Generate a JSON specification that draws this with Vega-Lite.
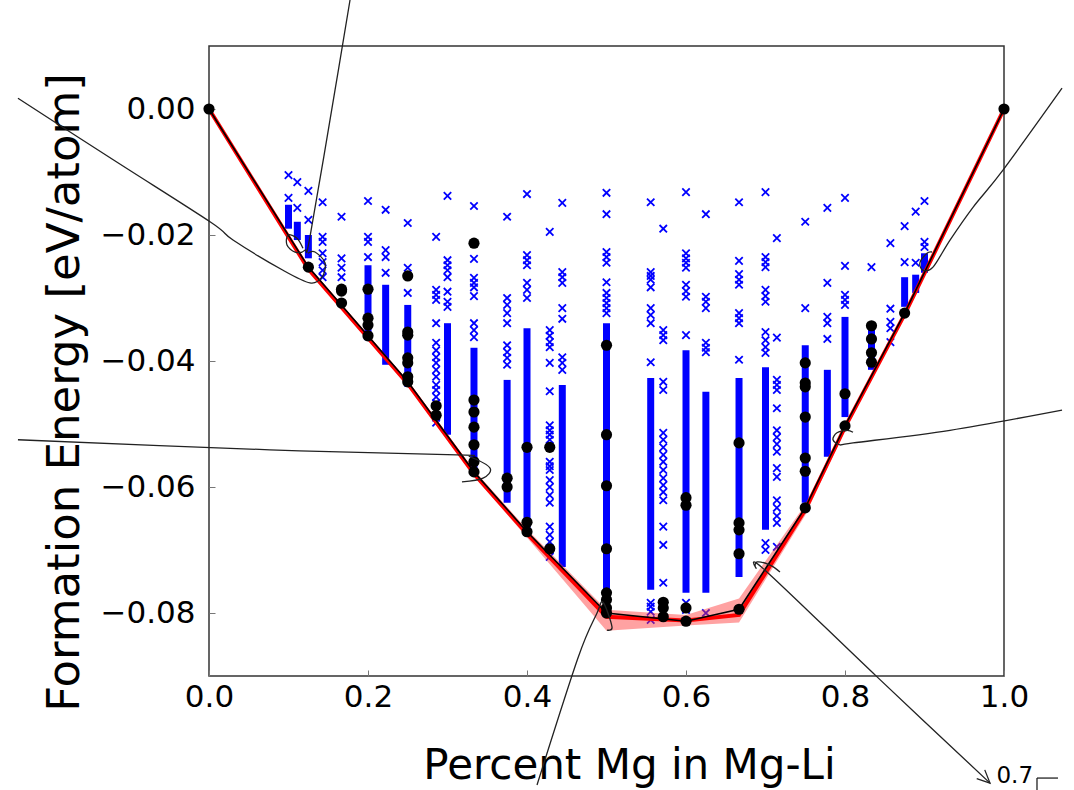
{
  "$schema": "https://vega.github.io/schema/vega-lite/v6.json",
  "width": 795,
  "height": 630,
  "autosize": {"type": "none"},
  "padding": {"left": 209, "top": 46, "right": 70, "bottom": 114},
  "background": "white",
  "config": {
    "view": {"stroke": "#333", "strokeWidth": 1.5},
    "font": "DejaVu Sans",
    "axis": {"grid": false, "domain": false, "labelFont": "DejaVu Sans", "titleFont": "DejaVu Sans", "labelColor": "black", "titleColor": "black", "titleFontWeight": "normal", "tickColor": "#777", "tickWidth": 1}
  },
  "datasets": {
    "dense": [
      {"x": 0.1, "top": -0.0152, "bottom": -0.0190},
      {"x": 0.1111, "top": -0.0179, "bottom": -0.0208},
      {"x": 0.125, "top": -0.0200, "bottom": -0.0237},
      {"x": 0.2, "top": -0.0248, "bottom": -0.0367},
      {"x": 0.2222, "top": -0.0279, "bottom": -0.0406},
      {"x": 0.25, "top": -0.0311, "bottom": -0.0441},
      {"x": 0.3, "top": -0.0340, "bottom": -0.0517},
      {"x": 0.3333, "top": -0.0379, "bottom": -0.0576},
      {"x": 0.375, "top": -0.0430, "bottom": -0.0625},
      {"x": 0.4, "top": -0.0348, "bottom": -0.0673},
      {"x": 0.4444, "top": -0.0438, "bottom": -0.0727},
      {"x": 0.5, "top": -0.0340, "bottom": -0.0790},
      {"x": 0.5556, "top": -0.0427, "bottom": -0.0763},
      {"x": 0.6, "top": -0.0383, "bottom": -0.0768},
      {"x": 0.625, "top": -0.0449, "bottom": -0.0768},
      {"x": 0.6667, "top": -0.0427, "bottom": -0.0743},
      {"x": 0.7, "top": -0.0410, "bottom": -0.0668},
      {"x": 0.75, "top": -0.0375, "bottom": -0.0625},
      {"x": 0.7778, "top": -0.0414, "bottom": -0.0552},
      {"x": 0.8, "top": -0.0330, "bottom": -0.0489},
      {"x": 0.8333, "top": -0.0346, "bottom": -0.0414},
      {"x": 0.875, "top": -0.0267, "bottom": -0.0314},
      {"x": 0.8889, "top": -0.0263, "bottom": -0.0292},
      {"x": 0.9, "top": -0.0229, "bottom": -0.0260}
    ],
    "crosses": [
      {"x": 0.1, "e": -0.0105}, {"x": 0.1, "e": -0.0141},
      {"x": 0.1111, "e": -0.0116}, {"x": 0.1111, "e": -0.0157},
      {"x": 0.125, "e": -0.0130}, {"x": 0.125, "e": -0.0176},
      {"x": 0.1429, "e": -0.0148}, {"x": 0.1429, "e": -0.0203}, {"x": 0.1429, "e": -0.0211}, {"x": 0.1429, "e": -0.0229}, {"x": 0.1429, "e": -0.0243}, {"x": 0.1429, "e": -0.0256}, {"x": 0.1429, "e": -0.0267},
      {"x": 0.1667, "e": -0.0171}, {"x": 0.1667, "e": -0.0237}, {"x": 0.1667, "e": -0.0252}, {"x": 0.1667, "e": -0.0267},
      {"x": 0.2, "e": -0.0146}, {"x": 0.2, "e": -0.0203}, {"x": 0.2, "e": -0.0211}, {"x": 0.2, "e": -0.0235},
      {"x": 0.2222, "e": -0.0160}, {"x": 0.2222, "e": -0.0224}, {"x": 0.2222, "e": -0.0235}, {"x": 0.2222, "e": -0.0260},
      {"x": 0.25, "e": -0.0181}, {"x": 0.25, "e": -0.0252}, {"x": 0.25, "e": -0.0292},
      {"x": 0.2857, "e": -0.0203}, {"x": 0.2857, "e": -0.0287}, {"x": 0.2857, "e": -0.0295}, {"x": 0.2857, "e": -0.0303}, {"x": 0.2857, "e": -0.0340}, {"x": 0.2857, "e": -0.0371}, {"x": 0.2857, "e": -0.0383}, {"x": 0.2857, "e": -0.0394}, {"x": 0.2857, "e": -0.0403}, {"x": 0.2857, "e": -0.0414}, {"x": 0.2857, "e": -0.0425}, {"x": 0.2857, "e": -0.0438}, {"x": 0.2857, "e": -0.0446}, {"x": 0.2857, "e": -0.0457}, {"x": 0.2857, "e": -0.0467}, {"x": 0.2857, "e": -0.0478}, {"x": 0.2857, "e": -0.0490}, {"x": 0.2857, "e": -0.0498},
      {"x": 0.3, "e": -0.0138}, {"x": 0.3, "e": -0.0240}, {"x": 0.3, "e": -0.0248}, {"x": 0.3, "e": -0.0256}, {"x": 0.3, "e": -0.0267}, {"x": 0.3, "e": -0.0290}, {"x": 0.3, "e": -0.0306}, {"x": 0.3, "e": -0.0314},
      {"x": 0.3333, "e": -0.0154}, {"x": 0.3333, "e": -0.0238}, {"x": 0.3333, "e": -0.0268}, {"x": 0.3333, "e": -0.0276}, {"x": 0.3333, "e": -0.0283}, {"x": 0.3333, "e": -0.0297}, {"x": 0.3333, "e": -0.0340}, {"x": 0.3333, "e": -0.0351}, {"x": 0.3333, "e": -0.0362},
      {"x": 0.375, "e": -0.0171}, {"x": 0.375, "e": -0.0300}, {"x": 0.375, "e": -0.0311}, {"x": 0.375, "e": -0.0324}, {"x": 0.375, "e": -0.0340}, {"x": 0.375, "e": -0.0375}, {"x": 0.375, "e": -0.0386}, {"x": 0.375, "e": -0.0395}, {"x": 0.375, "e": -0.0406},
      {"x": 0.4, "e": -0.0135}, {"x": 0.4, "e": -0.0232}, {"x": 0.4, "e": -0.0240}, {"x": 0.4, "e": -0.0248}, {"x": 0.4, "e": -0.0276}, {"x": 0.4, "e": -0.0287}, {"x": 0.4, "e": -0.0300},
      {"x": 0.4286, "e": -0.0195}, {"x": 0.4286, "e": -0.0351}, {"x": 0.4286, "e": -0.0360}, {"x": 0.4286, "e": -0.0370}, {"x": 0.4286, "e": -0.0378}, {"x": 0.4286, "e": -0.0403}, {"x": 0.4286, "e": -0.0448}, {"x": 0.4286, "e": -0.0502}, {"x": 0.4286, "e": -0.0510}, {"x": 0.4286, "e": -0.0517}, {"x": 0.4286, "e": -0.0525}, {"x": 0.4286, "e": -0.0560}, {"x": 0.4286, "e": -0.0567}, {"x": 0.4286, "e": -0.0573}, {"x": 0.4286, "e": -0.0589}, {"x": 0.4286, "e": -0.0600}, {"x": 0.4286, "e": -0.0613}, {"x": 0.4286, "e": -0.0625}, {"x": 0.4286, "e": -0.0663}, {"x": 0.4286, "e": -0.0676}, {"x": 0.4286, "e": -0.0687}, {"x": 0.4286, "e": -0.0700}, {"x": 0.4286, "e": -0.0711},
      {"x": 0.4444, "e": -0.0149}, {"x": 0.4444, "e": -0.0259}, {"x": 0.4444, "e": -0.0267}, {"x": 0.4444, "e": -0.0276}, {"x": 0.4444, "e": -0.0316}, {"x": 0.4444, "e": -0.0333}, {"x": 0.4444, "e": -0.0394}, {"x": 0.4444, "e": -0.0403}, {"x": 0.4444, "e": -0.0414},
      {"x": 0.5, "e": -0.0133}, {"x": 0.5, "e": -0.0167}, {"x": 0.5, "e": -0.0227}, {"x": 0.5, "e": -0.0235}, {"x": 0.5, "e": -0.0244}, {"x": 0.5, "e": -0.0275}, {"x": 0.5, "e": -0.0292}, {"x": 0.5, "e": -0.0300}, {"x": 0.5, "e": -0.0308}, {"x": 0.5, "e": -0.0316}, {"x": 0.5, "e": -0.0324},
      {"x": 0.5556, "e": -0.0148}, {"x": 0.5556, "e": -0.0259}, {"x": 0.5556, "e": -0.0265}, {"x": 0.5556, "e": -0.0271}, {"x": 0.5556, "e": -0.0283}, {"x": 0.5556, "e": -0.0316}, {"x": 0.5556, "e": -0.0327}, {"x": 0.5556, "e": -0.0340}, {"x": 0.5556, "e": -0.0402}, {"x": 0.5556, "e": -0.0784}, {"x": 0.5556, "e": -0.0790}, {"x": 0.5556, "e": -0.0798}, {"x": 0.5556, "e": -0.0811},
      {"x": 0.5714, "e": -0.0190}, {"x": 0.5714, "e": -0.0351}, {"x": 0.5714, "e": -0.0359}, {"x": 0.5714, "e": -0.0367}, {"x": 0.5714, "e": -0.0433}, {"x": 0.5714, "e": -0.0446}, {"x": 0.5714, "e": -0.0514}, {"x": 0.5714, "e": -0.0525}, {"x": 0.5714, "e": -0.0537}, {"x": 0.5714, "e": -0.0549}, {"x": 0.5714, "e": -0.0560}, {"x": 0.5714, "e": -0.0573}, {"x": 0.5714, "e": -0.0586}, {"x": 0.5714, "e": -0.0597}, {"x": 0.5714, "e": -0.0608}, {"x": 0.5714, "e": -0.0621}, {"x": 0.5714, "e": -0.0663}, {"x": 0.5714, "e": -0.0692}, {"x": 0.5714, "e": -0.0752},
      {"x": 0.6, "e": -0.0132}, {"x": 0.6, "e": -0.0229}, {"x": 0.6, "e": -0.0237}, {"x": 0.6, "e": -0.0244}, {"x": 0.6, "e": -0.0252}, {"x": 0.6, "e": -0.0279}, {"x": 0.6, "e": -0.0289}, {"x": 0.6, "e": -0.0298}, {"x": 0.6, "e": -0.0359}, {"x": 0.6, "e": -0.0784}, {"x": 0.6, "e": -0.0795},
      {"x": 0.625, "e": -0.0167}, {"x": 0.625, "e": -0.0298}, {"x": 0.625, "e": -0.0306}, {"x": 0.625, "e": -0.0316}, {"x": 0.625, "e": -0.0371}, {"x": 0.625, "e": -0.0379}, {"x": 0.625, "e": -0.0386}, {"x": 0.625, "e": -0.0800},
      {"x": 0.6667, "e": -0.0148}, {"x": 0.6667, "e": -0.0241}, {"x": 0.6667, "e": -0.0262}, {"x": 0.6667, "e": -0.0271}, {"x": 0.6667, "e": -0.0279}, {"x": 0.6667, "e": -0.0324}, {"x": 0.6667, "e": -0.0332}, {"x": 0.6667, "e": -0.0340}, {"x": 0.6667, "e": -0.0398},
      {"x": 0.7, "e": -0.0132}, {"x": 0.7, "e": -0.0235}, {"x": 0.7, "e": -0.0243}, {"x": 0.7, "e": -0.0251}, {"x": 0.7, "e": -0.0287}, {"x": 0.7, "e": -0.0297}, {"x": 0.7, "e": -0.0306}, {"x": 0.7, "e": -0.0354}, {"x": 0.7, "e": -0.0367}, {"x": 0.7, "e": -0.0378}, {"x": 0.7, "e": -0.0387}, {"x": 0.7, "e": -0.0689}, {"x": 0.7, "e": -0.0700},
      {"x": 0.7143, "e": -0.0205}, {"x": 0.7143, "e": -0.0363}, {"x": 0.7143, "e": -0.0430}, {"x": 0.7143, "e": -0.0438}, {"x": 0.7143, "e": -0.0446}, {"x": 0.7143, "e": -0.0475}, {"x": 0.7143, "e": -0.0510}, {"x": 0.7143, "e": -0.0521}, {"x": 0.7143, "e": -0.0532}, {"x": 0.7143, "e": -0.0544}, {"x": 0.7143, "e": -0.0570}, {"x": 0.7143, "e": -0.0584}, {"x": 0.7143, "e": -0.0621}, {"x": 0.7143, "e": -0.0633}, {"x": 0.7143, "e": -0.0646}, {"x": 0.7143, "e": -0.0657}, {"x": 0.7143, "e": -0.0695},
      {"x": 0.75, "e": -0.0179}, {"x": 0.75, "e": -0.0316}, {"x": 0.75, "e": -0.0633},
      {"x": 0.7778, "e": -0.0157}, {"x": 0.7778, "e": -0.0276}, {"x": 0.7778, "e": -0.0330}, {"x": 0.7778, "e": -0.0340}, {"x": 0.7778, "e": -0.0365},
      {"x": 0.8, "e": -0.0141}, {"x": 0.8, "e": -0.0249}, {"x": 0.8, "e": -0.0295}, {"x": 0.8, "e": -0.0303}, {"x": 0.8, "e": -0.0311},
      {"x": 0.8333, "e": -0.0251},
      {"x": 0.8571, "e": -0.0213}, {"x": 0.8571, "e": -0.0317}, {"x": 0.8571, "e": -0.0338}, {"x": 0.8571, "e": -0.0348}, {"x": 0.8571, "e": -0.0370},
      {"x": 0.875, "e": -0.0186}, {"x": 0.875, "e": -0.0243},
      {"x": 0.8889, "e": -0.0163}, {"x": 0.8889, "e": -0.0244},
      {"x": 0.9, "e": -0.0146}, {"x": 0.9, "e": -0.0211}, {"x": 0.9, "e": -0.0219}
    ],
    "dots": [
      {"x": 0, "e": 0}, {"x": 1, "e": 0},
      {"x": 0.125, "e": -0.0251},
      {"x": 0.1667, "e": -0.0286}, {"x": 0.1667, "e": -0.0289}, {"x": 0.1667, "e": -0.0308},
      {"x": 0.2, "e": -0.0286}, {"x": 0.2, "e": -0.0332}, {"x": 0.2, "e": -0.0343}, {"x": 0.2, "e": -0.0360},
      {"x": 0.25, "e": -0.0265}, {"x": 0.25, "e": -0.0354}, {"x": 0.25, "e": -0.0359}, {"x": 0.25, "e": -0.0395}, {"x": 0.25, "e": -0.0403}, {"x": 0.25, "e": -0.0425}, {"x": 0.25, "e": -0.0433},
      {"x": 0.2857, "e": -0.0471}, {"x": 0.2857, "e": -0.0486},
      {"x": 0.3333, "e": -0.0213}, {"x": 0.3333, "e": -0.0462}, {"x": 0.3333, "e": -0.0481}, {"x": 0.3333, "e": -0.0505}, {"x": 0.3333, "e": -0.0533}, {"x": 0.3333, "e": -0.0560}, {"x": 0.3333, "e": -0.0576},
      {"x": 0.375, "e": -0.0586}, {"x": 0.375, "e": -0.0600},
      {"x": 0.4, "e": -0.0537}, {"x": 0.4, "e": -0.0656}, {"x": 0.4, "e": -0.0671},
      {"x": 0.4286, "e": -0.0537}, {"x": 0.4286, "e": -0.0698},
      {"x": 0.5, "e": -0.0375}, {"x": 0.5, "e": -0.0517}, {"x": 0.5, "e": -0.0598}, {"x": 0.5, "e": -0.0698}, {"x": 0.5, "e": -0.0768}, {"x": 0.5, "e": -0.0779}, {"x": 0.5, "e": -0.0792}, {"x": 0.5, "e": -0.0800},
      {"x": 0.5714, "e": -0.0783}, {"x": 0.5714, "e": -0.0792}, {"x": 0.5714, "e": -0.0806},
      {"x": 0.6, "e": -0.0617}, {"x": 0.6, "e": -0.0629}, {"x": 0.6, "e": -0.0792}, {"x": 0.6, "e": -0.0813},
      {"x": 0.6667, "e": -0.0530}, {"x": 0.6667, "e": -0.0657}, {"x": 0.6667, "e": -0.0668}, {"x": 0.6667, "e": -0.0706}, {"x": 0.6667, "e": -0.0794},
      {"x": 0.75, "e": -0.0403}, {"x": 0.75, "e": -0.0435}, {"x": 0.75, "e": -0.0441}, {"x": 0.75, "e": -0.0489}, {"x": 0.75, "e": -0.0554}, {"x": 0.75, "e": -0.0575}, {"x": 0.75, "e": -0.0633},
      {"x": 0.8, "e": -0.0452}, {"x": 0.8, "e": -0.0503},
      {"x": 0.8333, "e": -0.0344}, {"x": 0.8333, "e": -0.0365}, {"x": 0.8333, "e": -0.0387}, {"x": 0.8333, "e": -0.0402},
      {"x": 0.875, "e": -0.0324}
    ],
    "hull": [
      {"x": 0, "e": 0, "red": 0, "lo": -0.0002, "hi": 0.0002},
      {"x": 0.125, "e": -0.0251, "red": -0.0254, "lo": -0.0257, "hi": -0.0249},
      {"x": 0.25, "e": -0.0433, "red": -0.0436, "lo": -0.0440, "hi": -0.0431},
      {"x": 0.3333, "e": -0.0576, "red": -0.0579, "lo": -0.0583, "hi": -0.0573},
      {"x": 0.4, "e": -0.0671, "red": -0.0674, "lo": -0.0680, "hi": -0.0667},
      {"x": 0.5, "e": -0.0800, "red": -0.0806, "lo": -0.0828, "hi": -0.0795},
      {"x": 0.6, "e": -0.0813, "red": -0.0812, "lo": -0.0820, "hi": -0.0803},
      {"x": 0.6667, "e": -0.0794, "red": -0.0803, "lo": -0.0815, "hi": -0.0777},
      {"x": 0.75, "e": -0.0633, "red": -0.0636, "lo": -0.0645, "hi": -0.0628},
      {"x": 0.8, "e": -0.0503, "red": -0.0505, "lo": -0.0510, "hi": -0.0500},
      {"x": 0.875, "e": -0.0324, "red": -0.0326, "lo": -0.0330, "hi": -0.0322},
      {"x": 1, "e": 0, "red": 0, "lo": -0.0002, "hi": 0.0002}
    ],
    "curves": [
      {"id": "a", "o": 1, "x": 0.1774, "e": 0.0173}, {"id": "a", "o": 2, "x": 0.1585, "e": 0.0030}, {"id": "a", "o": 3, "x": 0.1270, "e": -0.0203}, {"id": "a", "o": 4, "x": 0.1208, "e": -0.0224}, {"id": "a", "o": 5, "x": 0.1082, "e": -0.0227}, {"id": "a", "o": 6, "x": 0.0981, "e": -0.0216}, {"id": "a", "o": 7, "x": 0.0994, "e": -0.0200}, {"id": "a", "o": 8, "x": 0.1107, "e": -0.0205}, {"id": "a", "o": 9, "x": 0.1182, "e": -0.0221},
      {"id": "b", "o": 1, "x": -0.2403, "e": 0.0017}, {"id": "b", "o": 2, "x": -0.1200, "e": -0.0081}, {"id": "b", "o": 3, "x": 0.0013, "e": -0.0179}, {"id": "b", "o": 4, "x": 0.0302, "e": -0.0208}, {"id": "b", "o": 5, "x": 0.0931, "e": -0.0256}, {"id": "b", "o": 6, "x": 0.1270, "e": -0.0276}, {"id": "b", "o": 7, "x": 0.1421, "e": -0.0267}, {"id": "b", "o": 8, "x": 0.1459, "e": -0.0244}, {"id": "b", "o": 9, "x": 0.1333, "e": -0.0227}, {"id": "b", "o": 10, "x": 0.1245, "e": -0.0229},
      {"id": "c", "o": 1, "x": -0.2403, "e": -0.0525}, {"id": "c", "o": 2, "x": 0.0767, "e": -0.0541}, {"id": "c", "o": 3, "x": 0.3119, "e": -0.0549}, {"id": "c", "o": 4, "x": 0.3283, "e": -0.0552}, {"id": "c", "o": 5, "x": 0.3535, "e": -0.0570}, {"id": "c", "o": 6, "x": 0.3447, "e": -0.0586}, {"id": "c", "o": 7, "x": 0.3182, "e": -0.0592},
      {"id": "d", "o": 1, "x": 1.0730, "e": 0.0033}, {"id": "d", "o": 2, "x": 0.9987, "e": -0.0097}, {"id": "d", "o": 3, "x": 0.9610, "e": -0.0156}, {"id": "d", "o": 4, "x": 0.9321, "e": -0.0208}, {"id": "d", "o": 5, "x": 0.9107, "e": -0.0251}, {"id": "d", "o": 6, "x": 0.8981, "e": -0.0256}, {"id": "d", "o": 7, "x": 0.8943, "e": -0.0244}, {"id": "d", "o": 8, "x": 0.9031, "e": -0.0229}, {"id": "d", "o": 9, "x": 0.9094, "e": -0.0227},
      {"id": "e", "o": 1, "x": 1.0730, "e": -0.0478}, {"id": "e", "o": 2, "x": 0.9321, "e": -0.0510}, {"id": "e", "o": 3, "x": 0.8101, "e": -0.0530}, {"id": "e", "o": 4, "x": 0.7937, "e": -0.0533}, {"id": "e", "o": 5, "x": 0.7849, "e": -0.0525}, {"id": "e", "o": 6, "x": 0.7899, "e": -0.0514}, {"id": "e", "o": 7, "x": 0.8025, "e": -0.0510}, {"id": "e", "o": 8, "x": 0.8101, "e": -0.0513},
      {"id": "f", "o": 1, "x": 0.4126, "e": -0.1073}, {"id": "f", "o": 2, "x": 0.4642, "e": -0.0871}, {"id": "f", "o": 3, "x": 0.4881, "e": -0.0800}, {"id": "f", "o": 4, "x": 0.4956, "e": -0.0783}, {"id": "f", "o": 5, "x": 0.5069, "e": -0.0822}, {"id": "f", "o": 6, "x": 0.5006, "e": -0.0827},
      {"id": "g", "o": 1, "x": 0.7182, "e": -0.0735}, {"id": "g", "o": 2, "x": 0.7057, "e": -0.0724}, {"id": "g", "o": 3, "x": 0.6893, "e": -0.0719}, {"id": "g", "o": 4, "x": 0.6881, "e": -0.0729}, {"id": "g", "o": 5, "x": 0.6994, "e": -0.0732}, {"id": "g", "o": 6, "x": 0.8400, "e": -0.0901}, {"id": "g", "o": 7, "x": 0.9824, "e": -0.1070}
    ],
    "straight": [
      {"id": "arrow", "o": 1, "x": 0.9758, "e": -0.1049}, {"id": "arrow", "o": 2, "x": 0.9824, "e": -0.1070}, {"id": "arrow", "o": 3, "x": 0.9657, "e": -0.1063},
      {"id": "h1", "o": 1, "x": 1.0415, "e": -0.1062}, {"id": "h1", "o": 2, "x": 1.0679, "e": -0.1062},
      {"id": "h2", "o": 1, "x": 1.0415, "e": -0.1062}, {"id": "h2", "o": 2, "x": 1.0415, "e": -0.1081}
    ],
    "labels": [
      {"x": 0.9905, "e": -0.1070, "t": "0.7"}
    ]
  },
  "layer": [
    {
      "data": {"name": "dense"},
      "mark": {"type": "rule", "color": "#0000ff", "strokeWidth": 7},
      "encoding": {
        "x": {"field": "x", "type": "quantitative", "scale": {"domain": [0, 1], "nice": false, "zero": false},
          "axis": {"values": [0, 0.2, 0.4, 0.6, 0.8, 1], "format": ".1f", "labelFontSize": 31, "tickSize": -6, "labelPadding": 12, "labelFlush": false,
            "title": "Percent Mg in Mg-Li", "titleFontSize": 42, "titleX": 420, "titleY": 102, "titleAlign": "center", "titleBaseline": "alphabetic"}},
        "y": {"field": "top", "type": "quantitative", "scale": {"domain": [-0.09, 0.01], "nice": false, "zero": false},
          "axis": {"values": [-0.08, -0.06, -0.04, -0.02, 0], "format": ".2f", "labelFontSize": 31, "tickSize": -6, "labelPadding": 20, "labelFlush": false,
            "title": "Formation Energy [eV/atom]", "titleFontSize": 45, "titleX": -131, "titleY": 346, "titleAlign": "center", "titleBaseline": "alphabetic", "titleAngle": -90}},
        "y2": {"field": "bottom"}
      }
    },
    {
      "data": {"name": "crosses"},
      "mark": {"type": "point", "shape": "M-1,-1L1,1M-1,1L1,-1", "filled": false, "stroke": "#0000ff", "strokeWidth": 1.8, "size": 55, "opacity": 1},
      "encoding": {
        "x": {"field": "x", "type": "quantitative"},
        "y": {"field": "e", "type": "quantitative"}
      }
    },
    {
      "data": {"name": "hull"},
      "mark": {"type": "area", "color": "#ff3030", "opacity": 0.45},
      "encoding": {
        "x": {"field": "x", "type": "quantitative"},
        "y": {"field": "lo", "type": "quantitative"},
        "y2": {"field": "hi"}
      }
    },
    {
      "data": {"name": "hull"},
      "mark": {"type": "line", "color": "#ff0000", "strokeWidth": 4},
      "encoding": {
        "x": {"field": "x", "type": "quantitative"},
        "y": {"field": "red", "type": "quantitative"}
      }
    },
    {
      "data": {"name": "hull"},
      "mark": {"type": "line", "color": "#000000", "strokeWidth": 1.6},
      "encoding": {
        "x": {"field": "x", "type": "quantitative"},
        "y": {"field": "e", "type": "quantitative"}
      }
    },
    {
      "data": {"name": "dots"},
      "mark": {"type": "point", "shape": "circle", "filled": true, "color": "#000000", "size": 125, "opacity": 1},
      "encoding": {
        "x": {"field": "x", "type": "quantitative"},
        "y": {"field": "e", "type": "quantitative"}
      }
    },
    {
      "data": {"name": "curves"},
      "mark": {"type": "line", "color": "#222222", "strokeWidth": 1.3, "interpolate": "cardinal", "clip": false},
      "encoding": {
        "x": {"field": "x", "type": "quantitative"},
        "y": {"field": "e", "type": "quantitative"},
        "detail": {"field": "id"},
        "order": {"field": "o", "type": "quantitative"}
      }
    },
    {
      "data": {"name": "straight"},
      "mark": {"type": "line", "color": "#222222", "strokeWidth": 1.3, "clip": false},
      "encoding": {
        "x": {"field": "x", "type": "quantitative"},
        "y": {"field": "e", "type": "quantitative"},
        "detail": {"field": "id"},
        "order": {"field": "o", "type": "quantitative"}
      }
    },
    {
      "data": {"name": "labels"},
      "mark": {"type": "text", "fontSize": 23, "align": "left", "baseline": "alphabetic", "color": "black", "font": "DejaVu Sans", "clip": false},
      "encoding": {
        "x": {"field": "x", "type": "quantitative"},
        "y": {"field": "e", "type": "quantitative"},
        "text": {"field": "t"}
      }
    }
  ]
}
